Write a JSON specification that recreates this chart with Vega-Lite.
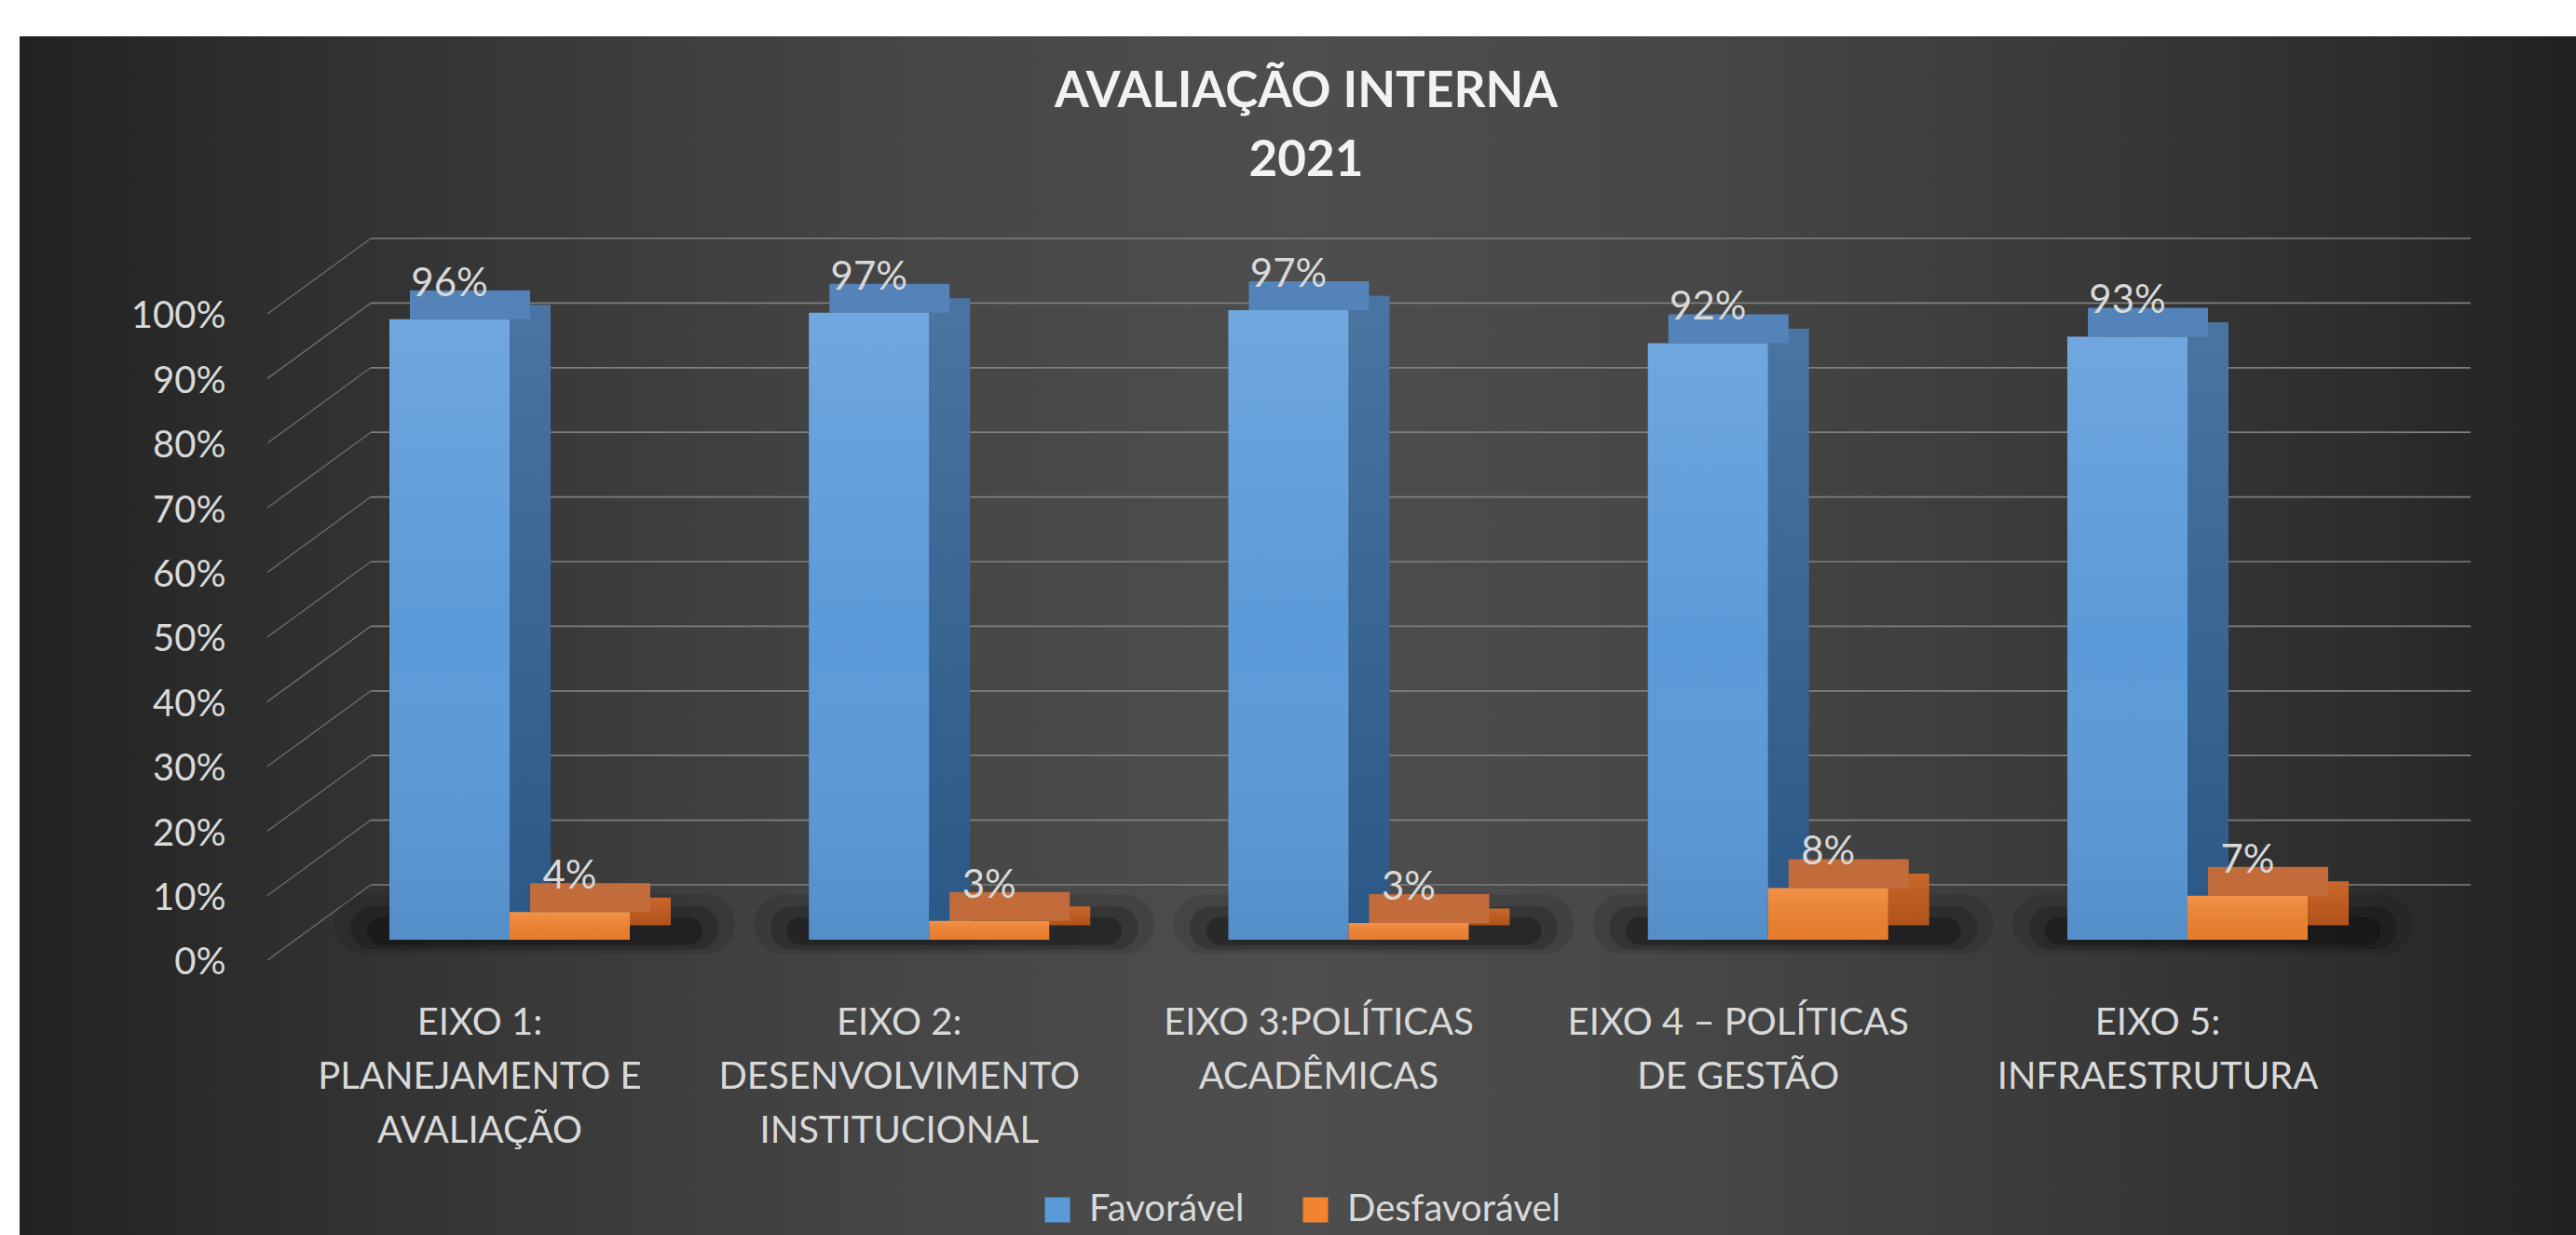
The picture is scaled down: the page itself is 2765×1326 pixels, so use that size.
{
  "$schema": "https://vega.github.io/schema/vega-lite/v6.json",
  "width": 2765,
  "height": 1326,
  "autosize": {"type": "fit", "contains": "padding"},
  "padding": {"top": 39, "left": 21, "right": 0, "bottom": 0},
  "background": "#ffffff",
  "config": {
    "view": {"stroke": null},
    "font": "Lato"
  },
  "title": {
    "text": ["AVALIAÇÃO INTERNA", "2021"],
    "font": "Lato",
    "fontSize": 53,
    "fontWeight": "bold",
    "color": "#f2f2f2",
    "lineHeight": 74,
    "anchor": "middle",
    "frame": "group",
    "offset": -161,
    "dx": 9
  },
  "datasets": {
    "bars": [
      {"eixo": "EIXO 1:\nPLANEJAMENTO E\nAVALIAÇÃO", "serie": "Favorável", "valor": 0.96},
      {"eixo": "EIXO 1:\nPLANEJAMENTO E\nAVALIAÇÃO", "serie": "Desfavorável", "valor": 0.043},
      {"eixo": "EIXO 2:\nDESENVOLVIMENTO\nINSTITUCIONAL", "serie": "Favorável", "valor": 0.97},
      {"eixo": "EIXO 2:\nDESENVOLVIMENTO\nINSTITUCIONAL", "serie": "Desfavorável", "valor": 0.029},
      {"eixo": "EIXO 3:POLÍTICAS\nACADÊMICAS", "serie": "Favorável", "valor": 0.974},
      {"eixo": "EIXO 3:POLÍTICAS\nACADÊMICAS", "serie": "Desfavorável", "valor": 0.026},
      {"eixo": "EIXO 4 – POLÍTICAS\nDE GESTÃO", "serie": "Favorável", "valor": 0.923},
      {"eixo": "EIXO 4 – POLÍTICAS\nDE GESTÃO", "serie": "Desfavorável", "valor": 0.08},
      {"eixo": "EIXO 5:\nINFRAESTRUTURA", "serie": "Favorável", "valor": 0.933},
      {"eixo": "EIXO 5:\nINFRAESTRUTURA", "serie": "Desfavorável", "valor": 0.068}
    ],
    "grid": [
      {"v": 0}, {"v": 0.1}, {"v": 0.2}, {"v": 0.3}, {"v": 0.4}, {"v": 0.5},
      {"v": 0.6}, {"v": 0.7}, {"v": 0.8}, {"v": 0.9}, {"v": 1}
    ]
  },
  "layer": [
    {
      "data": {"values": [{}]},
      "mark": {
        "type": "rect",
        "fill": {
          "gradient": "linear", "x1": 0, "y1": 0, "x2": 1, "y2": 0,
          "stops": [
            {"offset": 0, "color": "#222222"},
            {"offset": 0.08, "color": "#2c2c2c"},
            {"offset": 0.2, "color": "#393939"},
            {"offset": 0.35, "color": "#464646"},
            {"offset": 0.5, "color": "#4e4e4e"},
            {"offset": 0.65, "color": "#474747"},
            {"offset": 0.8, "color": "#3a3a3a"},
            {"offset": 0.92, "color": "#2d2d2d"},
            {"offset": 1, "color": "#212121"}
          ]
        }
      },
      "encoding": {}
    },
    {
      "data": {"name": "grid"},
      "mark": {"type": "rule", "stroke": "#7f7f7f", "strokeWidth": 1.7, "xOffset": -149, "x2Offset": 304, "yOffset": -59},
      "encoding": {
        "x": {"datum": "EIXO 1:\nPLANEJAMENTO E\nAVALIAÇÃO", "type": "nominal"},
        "x2": {"datum": "EIXO 5:\nINFRAESTRUTURA"},
        "y": {"field": "v", "type": "quantitative", "title": null}
      }
    },
    {
      "data": {"name": "grid"},
      "mark": {"type": "rule", "stroke": "#6e6e6e", "strokeWidth": 1.3, "xOffset": -260, "x2Offset": -149, "yOffset": 22, "y2Offset": -59},
      "encoding": {
        "x": {"datum": "EIXO 1:\nPLANEJAMENTO E\nAVALIAÇÃO", "type": "nominal"},
        "x2": {"datum": "EIXO 1:\nPLANEJAMENTO E\nAVALIAÇÃO"},
        "y": {"field": "v", "type": "quantitative", "title": null},
        "y2": {"field": "v"}
      }
    },
    {
      "data": {"name": "bars"},
      "transform": [{"filter": "datum.serie === 'Favorável'"}],
      "mark": {"type": "bar", "color": "#000000", "opacity": 0.1, "width": 430, "xOffset": 27, "cornerRadius": 45},
      "encoding": {
        "x": {"field": "eixo", "type": "nominal", "title": null},
        "y": {"datum": 0.07, "type": "quantitative"},
        "y2": {"datum": -0.022}
      }
    },
    {
      "data": {"name": "bars"},
      "transform": [{"filter": "datum.serie === 'Favorável'"}],
      "mark": {"type": "bar", "color": "#000000", "opacity": 0.18, "width": 395, "xOffset": 27, "cornerRadius": 30},
      "encoding": {
        "x": {"field": "eixo", "type": "nominal", "title": null},
        "y": {"datum": 0.052, "type": "quantitative"},
        "y2": {"datum": -0.015}
      }
    },
    {
      "data": {"name": "bars"},
      "transform": [{"filter": "datum.serie === 'Favorável'"}],
      "mark": {"type": "bar", "color": "#000000", "opacity": 0.25, "width": 360, "xOffset": 27, "cornerRadius": 18},
      "encoding": {
        "x": {"field": "eixo", "type": "nominal", "title": null},
        "y": {"datum": 0.035, "type": "quantitative"},
        "y2": {"datum": -0.008}
      }
    },
    {
      "data": {"name": "bars"},
      "transform": [{"filter": "datum.serie === 'Favorável'"}],
      "mark": {
        "type": "bar", "width": 44, "xOffset": 22, "yOffset": -15.5, "y2Offset": -15.5,
        "fill": {"gradient": "linear", "x1": 0, "y1": 0, "x2": 0, "y2": 1,
          "stops": [{"offset": 0, "color": "#4a74a2"}, {"offset": 1, "color": "#2b5886"}]}
      },
      "encoding": {
        "x": {"field": "eixo", "type": "nominal", "title": null},
        "y": {"field": "valor", "type": "quantitative", "title": null}
      }
    },
    {
      "data": {"name": "bars"},
      "transform": [{"filter": "datum.serie === 'Favorável'"}],
      "mark": {"type": "bar", "width": 129, "xOffset": -42.5, "yOffset": -31, "fill": "#5383b8"},
      "encoding": {
        "x": {"field": "eixo", "type": "nominal", "title": null},
        "y": {"field": "valor", "type": "quantitative", "title": null},
        "y2": {"field": "valor"}
      }
    },
    {
      "data": {"name": "bars"},
      "transform": [{"filter": "datum.serie === 'Desfavorável'"}],
      "mark": {
        "type": "bar", "width": 44, "xOffset": 151, "yOffset": -15.5, "y2Offset": -15.5,
        "fill": {"gradient": "linear", "x1": 0, "y1": 0, "x2": 0, "y2": 1,
          "stops": [{"offset": 0, "color": "#c9662a"}, {"offset": 1, "color": "#b0521a"}]}
      },
      "encoding": {
        "x": {"field": "eixo", "type": "nominal", "title": null},
        "y": {"field": "valor", "type": "quantitative", "title": null}
      }
    },
    {
      "data": {"name": "bars"},
      "transform": [{"filter": "datum.serie === 'Desfavorável'"}],
      "mark": {"type": "bar", "width": 129, "xOffset": 86.5, "yOffset": -31, "fill": "#c26b3b"},
      "encoding": {
        "x": {"field": "eixo", "type": "nominal", "title": null},
        "y": {"field": "valor", "type": "quantitative", "title": null},
        "y2": {"field": "valor"}
      }
    },
    {
      "data": {"name": "bars"},
      "transform": [{"filter": "datum.serie === 'Favorável'"}],
      "mark": {"type": "bar", "width": 129, "xOffset": -64.5},
      "encoding": {
        "x": {
          "field": "eixo", "type": "nominal", "title": null,
          "scale": {"paddingInner": 0, "paddingOuter": 0.5472, "align": 0.6106},
          "axis": {
            "labelExpr": "split(datum.label, '\\n')",
            "labelFont": "Lato", "labelFontSize": 40, "labelColor": "#d9d9d9",
            "labelLineHeight": 58, "labelAngle": 0, "labelAlign": "center", "labelBaseline": "top",
            "labelOffset": -32, "labelPadding": 0, "labelLimit": 0, "labelOverlap": false,
            "offset": -248, "ticks": false, "tickSize": 0, "domain": false, "grid": false, "zindex": 2
          }
        },
        "y": {
          "field": "valor", "type": "quantitative", "title": null,
          "scale": {"domain": [-0.4568, 1.3977], "nice": false, "zero": false},
          "axis": {
            "values": [0, 0.1, 0.2, 0.3, 0.4, 0.5, 0.6, 0.7, 0.8, 0.9, 1],
            "format": ".0%",
            "labelFont": "Lato", "labelFontSize": 40, "labelColor": "#d9d9d9",
            "labelOffset": 25, "labelPadding": 0, "labelOverlap": false, "labelFlush": false,
            "offset": -221, "ticks": false, "tickSize": 0, "domain": false, "grid": false, "zindex": 2
          }
        },
        "color": {
          "field": "serie", "type": "nominal",
          "scale": {"domain": ["Favorável", "Desfavorável"], "range": ["#5b9ad9", "#f2832f"]},
          "legend": {
            "title": null, "orient": "none", "legendX": 1094, "legendY": 1240,
            "direction": "horizontal", "symbolType": "square", "symbolSize": 729,
            "symbolStrokeWidth": 0, "labelFont": "Lato", "labelFontSize": 40,
            "labelColor": "#d9d9d9", "labelOffset": 14, "columnPadding": 56,
            "labelLimit": 0, "padding": 0, "zindex": 2
          }
        }
      }
    },
    {
      "data": {"name": "bars"},
      "transform": [{"filter": "datum.serie === 'Desfavorável'"}],
      "mark": {"type": "bar", "width": 129, "xOffset": 64.5},
      "encoding": {
        "x": {"field": "eixo", "type": "nominal", "title": null},
        "y": {"field": "valor", "type": "quantitative", "title": null},
        "color": {"field": "serie", "type": "nominal"}
      }
    },
    {
      "data": {"name": "bars"},
      "transform": [{"filter": "datum.serie === 'Favorável'"}],
      "mark": {
        "type": "bar", "width": 129, "xOffset": -64.5,
        "fill": {"gradient": "linear", "x1": 0, "y1": 0, "x2": 0, "y2": 1,
          "stops": [{"offset": 0, "color": "rgba(255,255,255,0.13)"}, {"offset": 0.5, "color": "rgba(255,255,255,0)"}, {"offset": 1, "color": "rgba(0,0,0,0.08)"}]}
      },
      "encoding": {
        "x": {"field": "eixo", "type": "nominal", "title": null},
        "y": {"field": "valor", "type": "quantitative", "title": null}
      }
    },
    {
      "data": {"name": "bars"},
      "transform": [{"filter": "datum.serie === 'Desfavorável'"}],
      "mark": {
        "type": "bar", "width": 129, "xOffset": 64.5,
        "fill": {"gradient": "linear", "x1": 0, "y1": 0, "x2": 0, "y2": 1,
          "stops": [{"offset": 0, "color": "rgba(255,255,255,0.12)"}, {"offset": 1, "color": "rgba(0,0,0,0.05)"}]}
      },
      "encoding": {
        "x": {"field": "eixo", "type": "nominal", "title": null},
        "y": {"field": "valor", "type": "quantitative", "title": null}
      }
    },
    {
      "data": {"name": "bars"},
      "transform": [{"filter": "datum.serie === 'Favorável'"}],
      "mark": {"type": "text", "xOffset": -64.5, "dy": -25, "baseline": "alphabetic", "align": "center", "font": "Lato", "fontSize": 42, "fill": "#d9d9d9"},
      "encoding": {
        "x": {"field": "eixo", "type": "nominal", "title": null},
        "y": {"field": "valor", "type": "quantitative", "title": null},
        "text": {"field": "valor", "type": "quantitative", "format": ".0%"}
      }
    },
    {
      "data": {"name": "bars"},
      "transform": [{"filter": "datum.serie === 'Desfavorável'"}],
      "mark": {"type": "text", "xOffset": 64.5, "dy": -25, "baseline": "alphabetic", "align": "center", "font": "Lato", "fontSize": 42, "fill": "#d9d9d9"},
      "encoding": {
        "x": {"field": "eixo", "type": "nominal", "title": null},
        "y": {"field": "valor", "type": "quantitative", "title": null},
        "text": {"field": "valor", "type": "quantitative", "format": ".0%"}
      }
    }
  ]
}
